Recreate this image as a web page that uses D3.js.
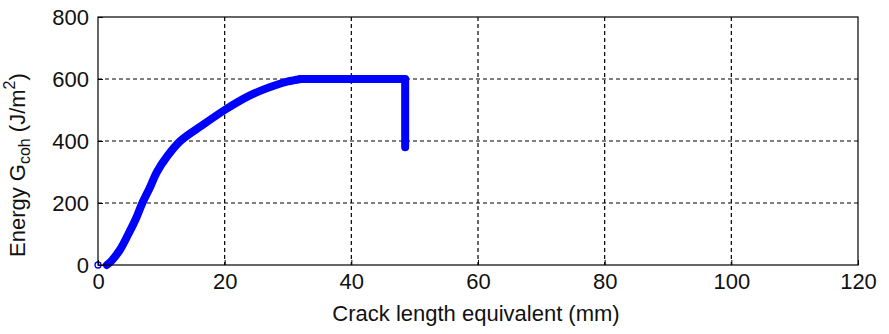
<!DOCTYPE html>
<html>
<head>
<meta charset="utf-8">
<script src="https://cdn.jsdelivr.net/npm/d3@7"></script>
<style>
  body { margin: 0; background: #fff; }
  text { font-family: "Liberation Sans", Arial, sans-serif; fill: #111; }
</style>
</head>
<body>
<svg id="chart"></svg>
<script>
// values (crack length in mm, energy in J/m2)
var crackLength = [1.4, 2.2, 3.5, 4.8, 6.0, 7.0, 8.2, 9.3, 10.9, 13.0, 16.4, 20, 22, 24, 26, 28, 30, 32, 48.5, 48.5];
var energy      = [0,   15,  50,  100, 150, 200, 250, 300, 350,  400,  450,  500, 525, 547, 565, 580, 592, 600, 600, 380];
var startPoint = [0, 0];
var xTicks = [0, 20, 40, 60, 80, 100, 120];
var yTicks = [0, 200, 400, 600, 800];

var width = 889, height = 334;
// plot box (note: "top" is a reserved window global, so use plot* names)
var plotLeft = 98, plotRight = 858, plotTop = 17, plotBottom = 265;

var svg = d3.select('#chart').attr('width', width).attr('height', height);

var x = d3.scaleLinear().domain([0, 120]).range([plotLeft, plotRight]);
var y = d3.scaleLinear().domain([0, 800]).range([plotBottom, plotTop]);

// grid lines (dotted like matlab)
svg.append('g').selectAll('line')
  .data(xTicks.slice(1, -1)).enter().append('line')
    .attr('x1', d => x(d)).attr('x2', d => x(d))
    .attr('y1', plotTop).attr('y2', plotBottom)
    .attr('stroke', '#000').attr('stroke-width', 1.2)
    .attr('stroke-dasharray', '4,3');
svg.append('g').selectAll('line')
  .data(yTicks.slice(1, -1)).enter().append('line')
    .attr('x1', plotLeft).attr('x2', plotRight)
    .attr('y1', d => y(d)).attr('y2', d => y(d))
    .attr('stroke', '#000').attr('stroke-width', 1.2)
    .attr('stroke-dasharray', '4,3');

// the curve: smooth rising part, then straight plateau and drop
var pts = crackLength.map((c, i) => [c, energy[i]]);
var peak = energy.indexOf(600);
var smooth = d3.line().x(d => x(d[0])).y(d => y(d[1])).curve(d3.curveCatmullRom.alpha(0.5));
var straight = d3.line().x(d => x(d[0])).y(d => y(d[1]));
svg.append('path')
  .attr('d', smooth(pts.slice(0, peak + 1)))
  .attr('fill', 'none').attr('stroke', '#0000ff')
  .attr('stroke-width', 8).attr('stroke-linejoin', 'round').attr('stroke-linecap', 'round');
svg.append('path')
  .attr('d', straight(pts.slice(peak)))
  .attr('fill', 'none').attr('stroke', '#0000ff')
  .attr('stroke-width', 8).attr('stroke-linejoin', 'round').attr('stroke-linecap', 'round');

svg.append('circle')
  .attr('cx', x(startPoint[0])).attr('cy', y(startPoint[1])).attr('r', 3)
  .attr('fill', 'none').attr('stroke', '#0000ff').attr('stroke-width', 1.3);

// axes box
var xAxis = d3.axisBottom(x).tickValues(xTicks).tickSize(-5).tickPadding(8);
var yAxis = d3.axisLeft(y).tickValues(yTicks).tickSize(-5).tickPadding(9);

var gx = svg.append('g').attr('transform', `translate(0,${plotBottom})`).call(xAxis);
var gy = svg.append('g').attr('transform', `translate(${plotLeft},0)`).call(yAxis);
[gx, gy].forEach(g => {
  g.select('.domain').remove();
  g.selectAll('line').attr('stroke', '#000');
  g.selectAll('text').attr('font-size', 22).style('font-family', '"Liberation Sans", Arial, sans-serif').attr('fill', '#111');
});

svg.append('rect')
  .attr('x', plotLeft).attr('y', plotTop)
  .attr('width', plotRight - plotLeft).attr('height', plotBottom - plotTop)
  .attr('fill', 'none').attr('stroke', '#000').attr('stroke-width', 1.2);

// axis labels
svg.append('text')
  .attr('x', 476).attr('y', 321)
  .attr('text-anchor', 'middle').attr('font-size', 22)
  .text('Crack length equivalent (mm)');

var yl = svg.append('text')
  .attr('transform', 'translate(25,257) rotate(-90)')
  .attr('font-size', 22);
yl.append('tspan').text('Energy G');
yl.append('tspan').attr('font-size', 16).attr('dy', 5).text('coh');
yl.append('tspan').attr('dy', -5).text(' (J/m');
yl.append('tspan').attr('font-size', 16).attr('dy', -10).text('2');
yl.append('tspan').attr('dy', 10).text(')');
</script>
</body>
</html>
